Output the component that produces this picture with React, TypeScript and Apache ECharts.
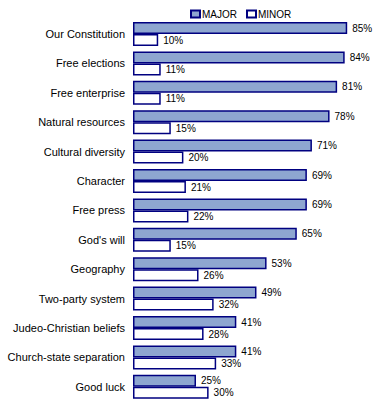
import React, { useEffect, useRef } from "react";
import * as echarts from "echarts";

const categories = [
  "Our Constitution",
  "Free elections",
  "Free enterprise",
  "Natural resources",
  "Cultural diversity",
  "Character",
  "Free press",
  "God's will",
  "Geography",
  "Two-party system",
  "Judeo-Christian beliefs",
  "Church-state separation",
  "Good luck",
];
const major = [85, 84, 81, 78, 71, 69, 69, 65, 53, 49, 41, 41, 25];
const minor = [10, 11, 11, 15, 20, 21, 22, 15, 26, 32, 28, 33, 30];

const FONT = 'Arial, "Liberation Sans", sans-serif';

export default function App() {
  const ref = useRef<HTMLDivElement>(null);
  useEffect(() => {
    if (!ref.current) return;
    const chart = echarts.init(ref.current, null, { renderer: "svg" });
    const label = {
      show: true,
      position: "right" as const,
      distance: 5,
      formatter: "{c}%",
      color: "#000",
      fontSize: 10,
      fontFamily: FONT,
    };
    chart.setOption({
      animation: false,
      backgroundColor: "#fff",
      legend: {
        top: 4,
        left: 185,
        itemWidth: 9,
        itemHeight: 7,
        itemGap: 9,
        textStyle: { fontSize: 10, fontFamily: FONT, color: "#000", padding: [0, 0, 0, -3] },
        data: [
          { name: "MAJOR", icon: "rect" },
          { name: "MINOR", icon: "rect" },
        ],
      },
      grid: { left: 133, right: 0, top: 19.3, bottom: 2.5, containLabel: false },
      xAxis: {
        type: "value",
        min: 0,
        max: 100,
        show: false,
      },
      yAxis: {
        type: "category",
        data: categories,
        inverse: true,
        axisLine: { show: false },
        axisTick: { show: false },
        axisLabel: { margin: 8, color: "#000", fontSize: 11, fontFamily: FONT },
        splitLine: { show: false },
      },
      series: [
        {
          name: "MAJOR",
          type: "bar",
          data: major,
          barWidth: 12,
          barGap: "0%",
          itemStyle: { color: "#8EA6D0", borderColor: "#000080", borderWidth: 1.5 },
          label,
        },
        {
          name: "MINOR",
          type: "bar",
          data: minor,
          barWidth: 12,
          barGap: "0%",
          itemStyle: { color: "#ffffff", borderColor: "#000080", borderWidth: 1.5 },
          label,
        },
      ],
    });
    return () => chart.dispose();
  }, []);
  return <div ref={ref} style={{ width: 385, height: 404, position: "absolute", left: 0, top: 0 }} />;
}
